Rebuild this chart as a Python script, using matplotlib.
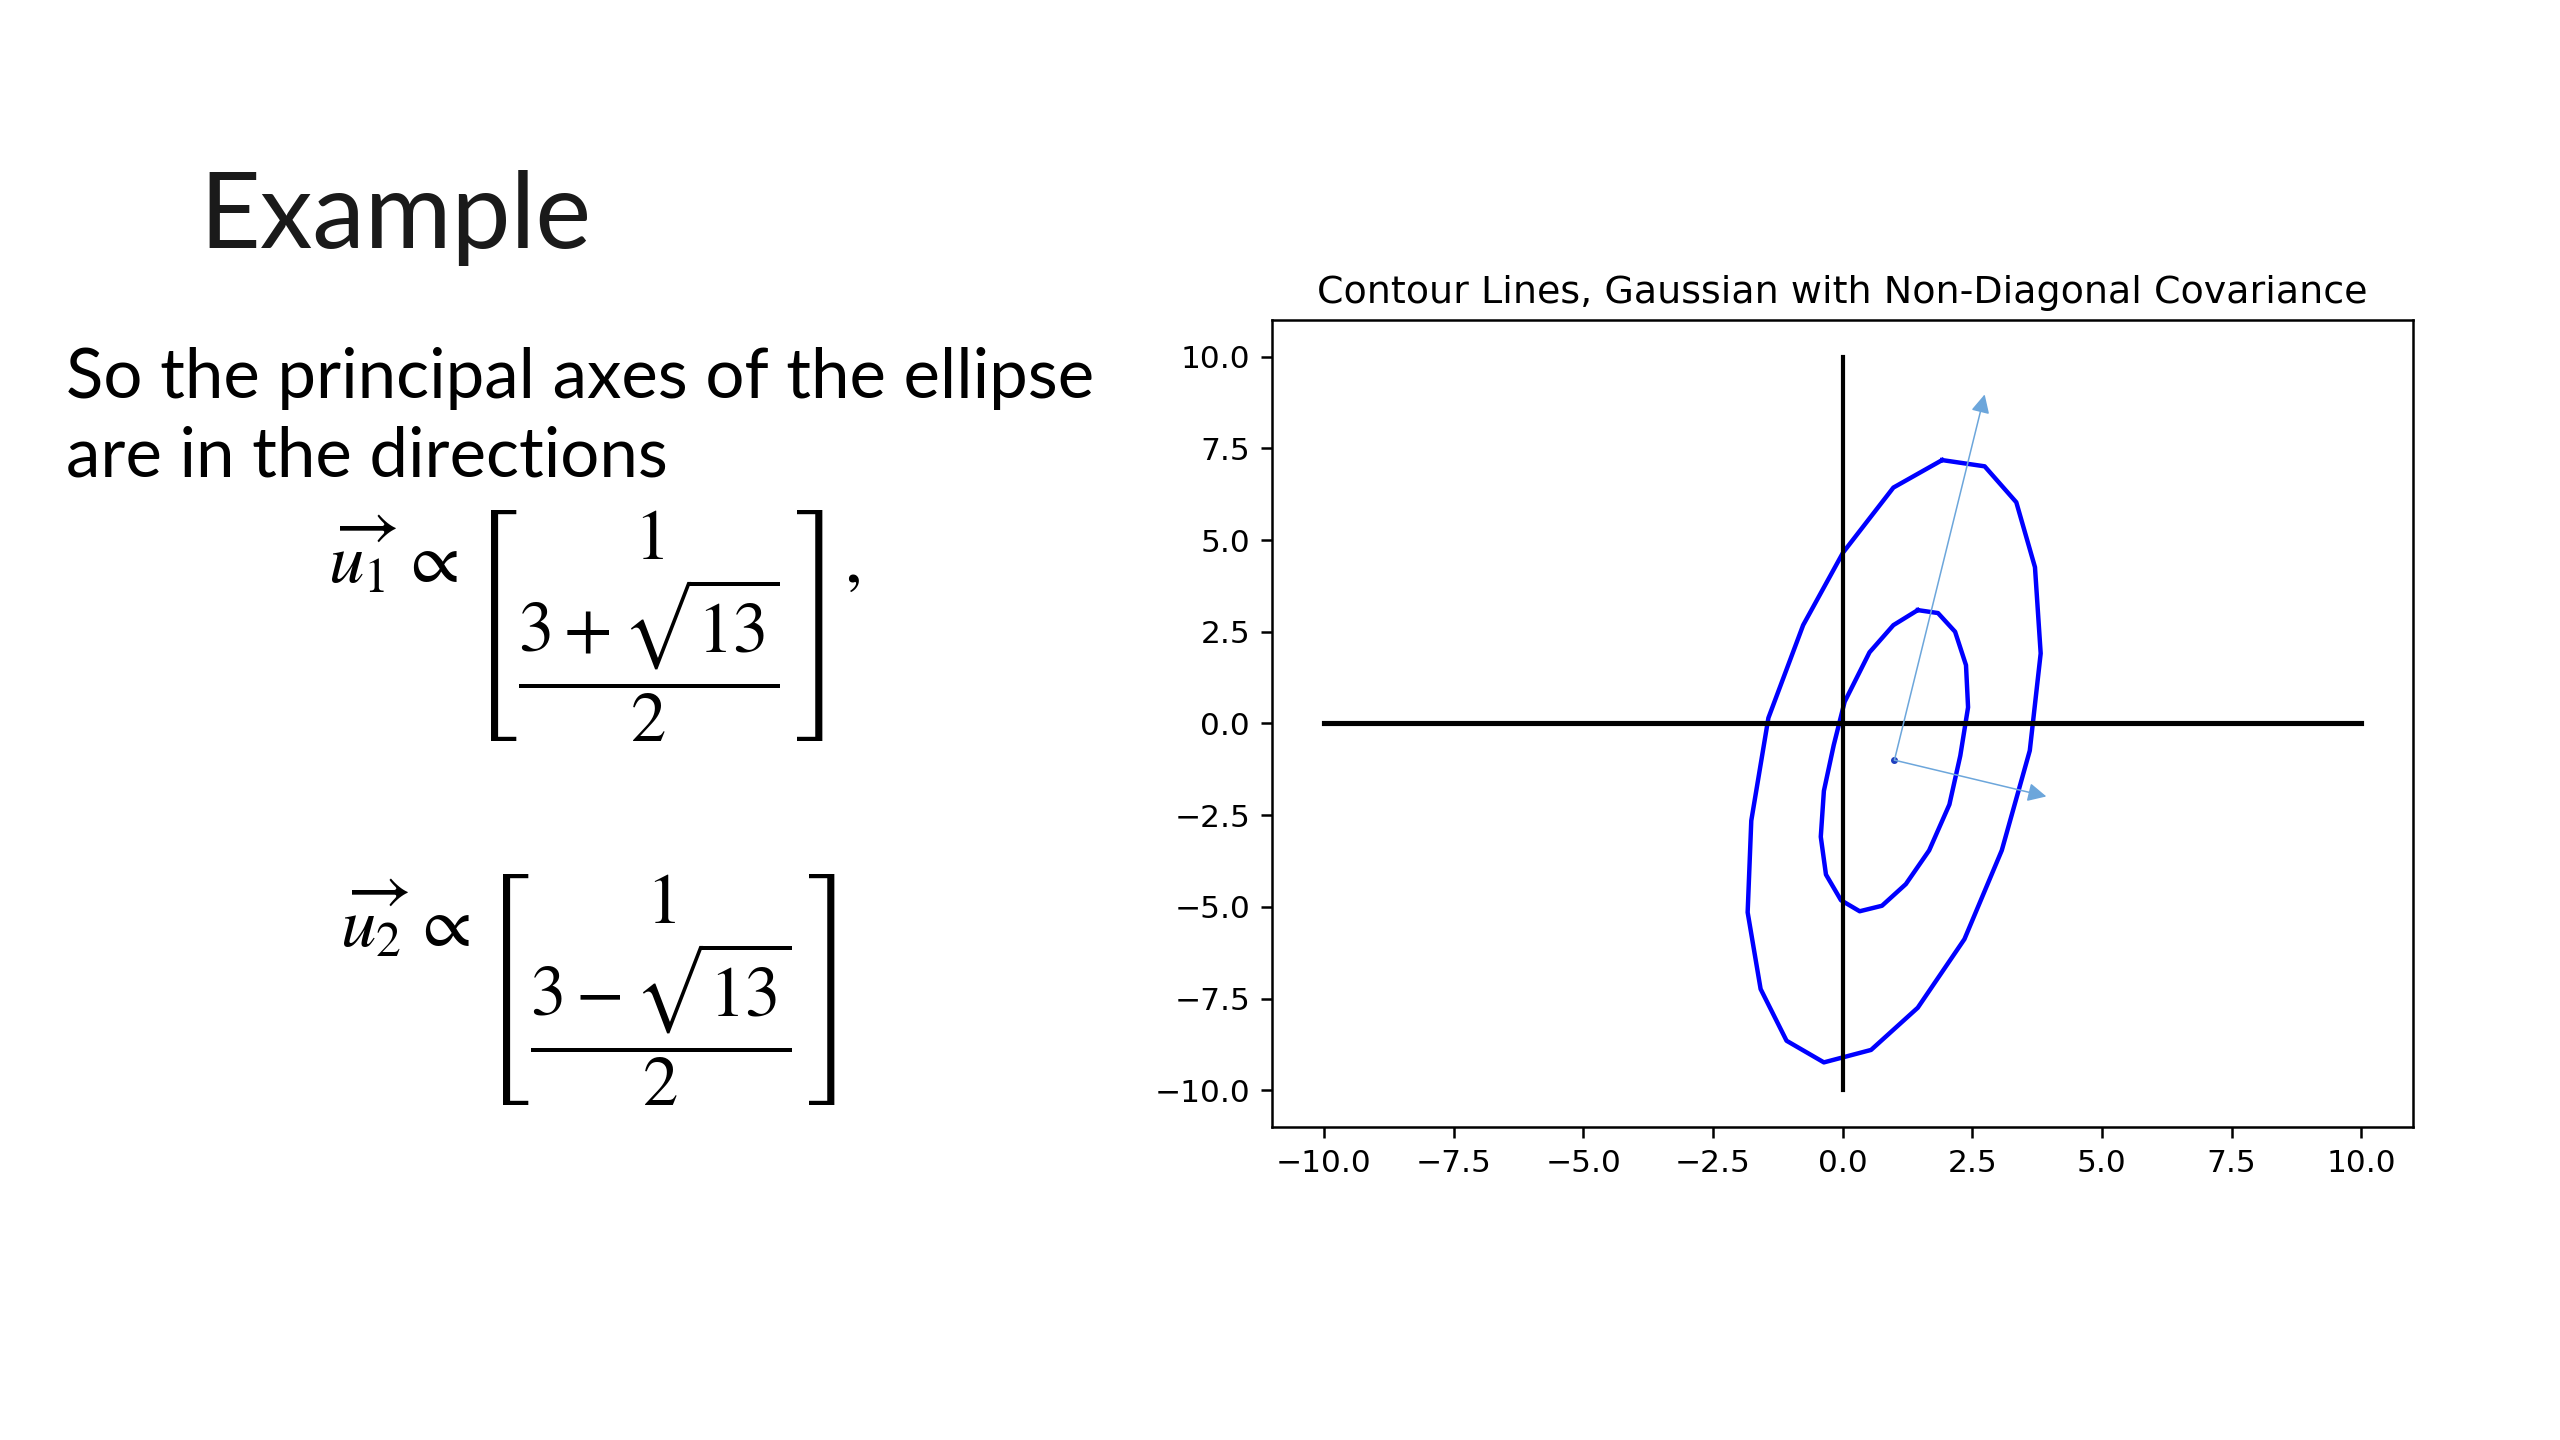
import matplotlib
matplotlib.use("Agg")
import matplotlib.pyplot as plt

# contour polygons (data units)
outer_x = [1.92, 2.74, 3.35, 3.71, 3.82, 3.61, 3.07, 2.35, 1.45, 0.55, -0.36, -1.08,
           -1.58, -1.83, -1.76, -1.43, -0.76, 0.01, 0.98, 1.92]
outer_y = [7.18, 7.01, 6.03, 4.26, 1.91, -0.74, -3.46, -5.88, -7.75, -8.90, -9.24, -8.65,
           -7.24, -5.15, -2.65, 0.15, 2.68, 4.66, 6.43, 7.18]
inner_x = [1.45, 1.84, 2.17, 2.38, 2.42, 2.27, 2.06, 1.67, 1.22, 0.76, 0.33, -0.03,
           -0.32, -0.42, -0.36, -0.17, 0.04, 0.52, 0.98, 1.45]
inner_y = [3.09, 3.01, 2.50, 1.59, 0.44, -0.88, -2.21, -3.46, -4.38, -4.97, -5.12, -4.82,
           -4.12, -3.09, -1.84, -0.59, 0.59, 1.94, 2.68, 3.09]

axis_span = [-10, 10]
mean = (1.0, -1.0)
arrow_ends = [(2.74, 8.97), (3.93, -1.99)]
ticks = [-10.0, -7.5, -5.0, -2.5, 0.0, 2.5, 5.0, 7.5, 10.0]

title = "Contour Lines, Gaussian with Non-Diagonal Covariance"
slide_title = "Example"
body_lines = ["So the principal axes of the ellipse", "are in the directions"]
eq1 = r"$\overrightarrow{u_1}\, \propto \left[\genfrac{}{}{0}{0}{1}{\dfrac{3+\sqrt{13}}{2}}\right],$"
eq2 = r"$\overrightarrow{u_2}\, \propto \left[\genfrac{}{}{0}{0}{1}{\dfrac{3-\sqrt{13}}{2}}\right]$"

plt.rcParams["mathtext.fontset"] = "stix"

fig = plt.figure(figsize=(25.6, 14.4), dpi=100, facecolor="white")

# slide text
fig.text(0.0777, 0.8278, slide_title, fontsize=76, family="Lato",
         va="baseline", ha="left", color="#1a1a1a")
fig.text(0.0258, 0.7236, body_lines[0], fontsize=49.7, family="Lato", va="baseline", ha="left")
fig.text(0.0258, 0.6694, body_lines[1], fontsize=49.7, family="Lato", va="baseline", ha="left")
fig.text(0.128, 0.565, eq1, fontsize=51, va="center", ha="left")
fig.text(0.133, 0.312, eq2, fontsize=51, va="center", ha="left")

# chart
ax = fig.add_axes([0.4969, 0.2174, 0.4457, 0.5604])
s = 2.25
ax.plot(outer_x, outer_y, color="blue", lw=3.2)
ax.plot(inner_x, inner_y, color="blue", lw=3.2)
ax.plot(axis_span, [0, 0], color="black", lw=3.7)
ax.plot([0, 0], axis_span, color="black", lw=3.0)
for end in arrow_ends:
    ax.annotate("", xy=end, xytext=mean,
                arrowprops=dict(arrowstyle="-|>", color="#6ca6db", lw=1.1,
                                mutation_scale=28, shrinkA=0, shrinkB=0))
ax.plot([mean[0]], [mean[1]], "o", color="#1f3fbf", ms=4)

ax.set_xlim(-11, 11)
ax.set_ylim(-11, 11)
ax.set_xticks(ticks)
ax.set_yticks(ticks)
ax.tick_params(labelsize=10 * s, length=3.5 * s, width=0.8 * s, pad=3.5 * s)
for sp in ax.spines.values():
    sp.set_linewidth(0.8 * s)
ax.set_title(title, fontsize=27.4, pad=5.5 * s)

fig.savefig("out.png", dpi=100)
